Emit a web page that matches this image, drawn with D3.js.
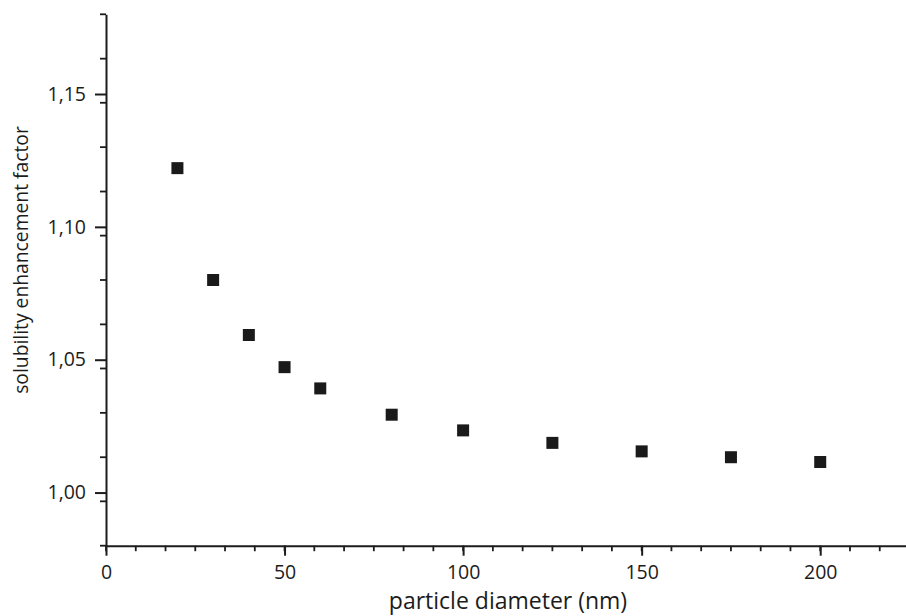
<!DOCTYPE html>
<html>
<head>
<meta charset="utf-8">
<script src="https://cdn.jsdelivr.net/npm/d3@7"></script>
<style>
  body { margin: 0; background: #fff; }
  svg { display: block; font-family: "Open Sans", sans-serif; }
</style>
</head>
<body>
<svg id="chart" width="906" height="616"></svg>
<script>
// particle diameter (nm) vs solubility enhancement factor
let diameters = [ 20, 30, 40, 50, 60, 80, 100, 125, 150, 175, 200 ]
let factors   = [ 1.1221, 1.0800, 1.0593, 1.0472, 1.0392, 1.0293, 1.0234, 1.0187, 1.0155, 1.0133, 1.0115 ]

let xTicks = [ 0, 50, 100, 150, 200 ]
let yTicks = [ 1.00, 1.05, 1.10, 1.15 ]

let svg = d3.select( 'svg#chart' )
let ink = '#1c1c1c'

let x = d3.scaleLinear().domain( [ 0, 225 ] ).range( [ 106, 909.5 ] )
let y = d3.scaleLinear().domain( [ 0.98, 1.18 ] ).range( [ 545.7, 14.3 ] )

let fmt = d => d3.format( '.2f' )( d ).replace( '.', ',' )

// minor ticks: x every 50/6, y every 0.05/3
let xMinor = d3.range( 0, 226, 50 / 6 )
let yMinor = d3.range( 0.98, 1.181, 0.05 / 3 ).map( v => +v.toFixed( 4 ) )

// x axis
let gx = svg.append( 'g' ).attr( 'transform', 'translate(0,545.7)' )
gx.selectAll( 'line.minor' )
    .data( xMinor )
    .enter()
    .append( 'line' )
    .attr( 'x1', d => x( d ) ).attr( 'x2', d => x( d ) )
    .attr( 'y1', 0 ).attr( 'y2', 5.5 )
    .attr( 'stroke', ink ).attr( 'stroke-width', 1.8 )
gx.call( d3.axisBottom( x ).tickValues( xTicks ).tickSize( 10 ).tickPadding( 9 ).tickSizeOuter( 0 ) )
gx.select( '.domain' ).attr( 'stroke', ink ).attr( 'stroke-width', 2 )
gx.selectAll( '.tick line' ).attr( 'stroke', ink ).attr( 'stroke-width', 2 )
gx.selectAll( '.tick text' )
    .attr( 'fill', ink )
    .style( 'font-size', '19.5px' )
    .style( 'font-family', '"Open Sans", sans-serif' )

// y axis
let gy = svg.append( 'g' ).attr( 'transform', 'translate(106,0)' )
gy.selectAll( 'line.minor' )
    .data( yMinor )
    .enter()
    .append( 'line' )
    .attr( 'y1', d => y( d ) ).attr( 'y2', d => y( d ) )
    .attr( 'x1', 0 ).attr( 'x2', -6 )
    .attr( 'stroke', ink ).attr( 'stroke-width', 1.8 )
gy.call( d3.axisLeft( y ).tickValues( yTicks ).tickFormat( fmt ).tickSize( 11 ).tickPadding( 9 ).tickSizeOuter( 0 ) )
gy.select( '.domain' ).attr( 'stroke', ink ).attr( 'stroke-width', 2 )
gy.selectAll( '.tick line' ).attr( 'stroke', ink ).attr( 'stroke-width', 2 )
gy.selectAll( '.tick text' )
    .attr( 'fill', ink )
    .style( 'font-size', '19.5px' )
    .style( 'font-family', '"Open Sans", sans-serif' )

// axis titles
svg.append( 'text' )
    .attr( 'x', 508 ).attr( 'y', 608.5 )
    .attr( 'text-anchor', 'middle' )
    .attr( 'fill', ink )
    .style( 'font-size', '23px' )
    .text( 'particle diameter (nm)' )

svg.append( 'text' )
    .attr( 'transform', 'translate(28,260) rotate(-90)' )
    .attr( 'text-anchor', 'middle' )
    .attr( 'fill', ink )
    .style( 'font-size', '19.3px' )
    .text( 'solubility enhancement factor' )

// data markers
let pts = diameters.map( ( d, i ) => ( { d: d, f: factors[ i ] } ) )
svg.append( 'g' )
    .selectAll( 'rect' )
    .data( pts )
    .enter()
    .append( 'rect' )
    .attr( 'x', p => x( p.d ) - 6 )
    .attr( 'y', p => y( p.f ) - 6 )
    .attr( 'width', 12 )
    .attr( 'height', 12 )
    .attr( 'fill', '#1a1a1a' )
</script>
</body>
</html>
